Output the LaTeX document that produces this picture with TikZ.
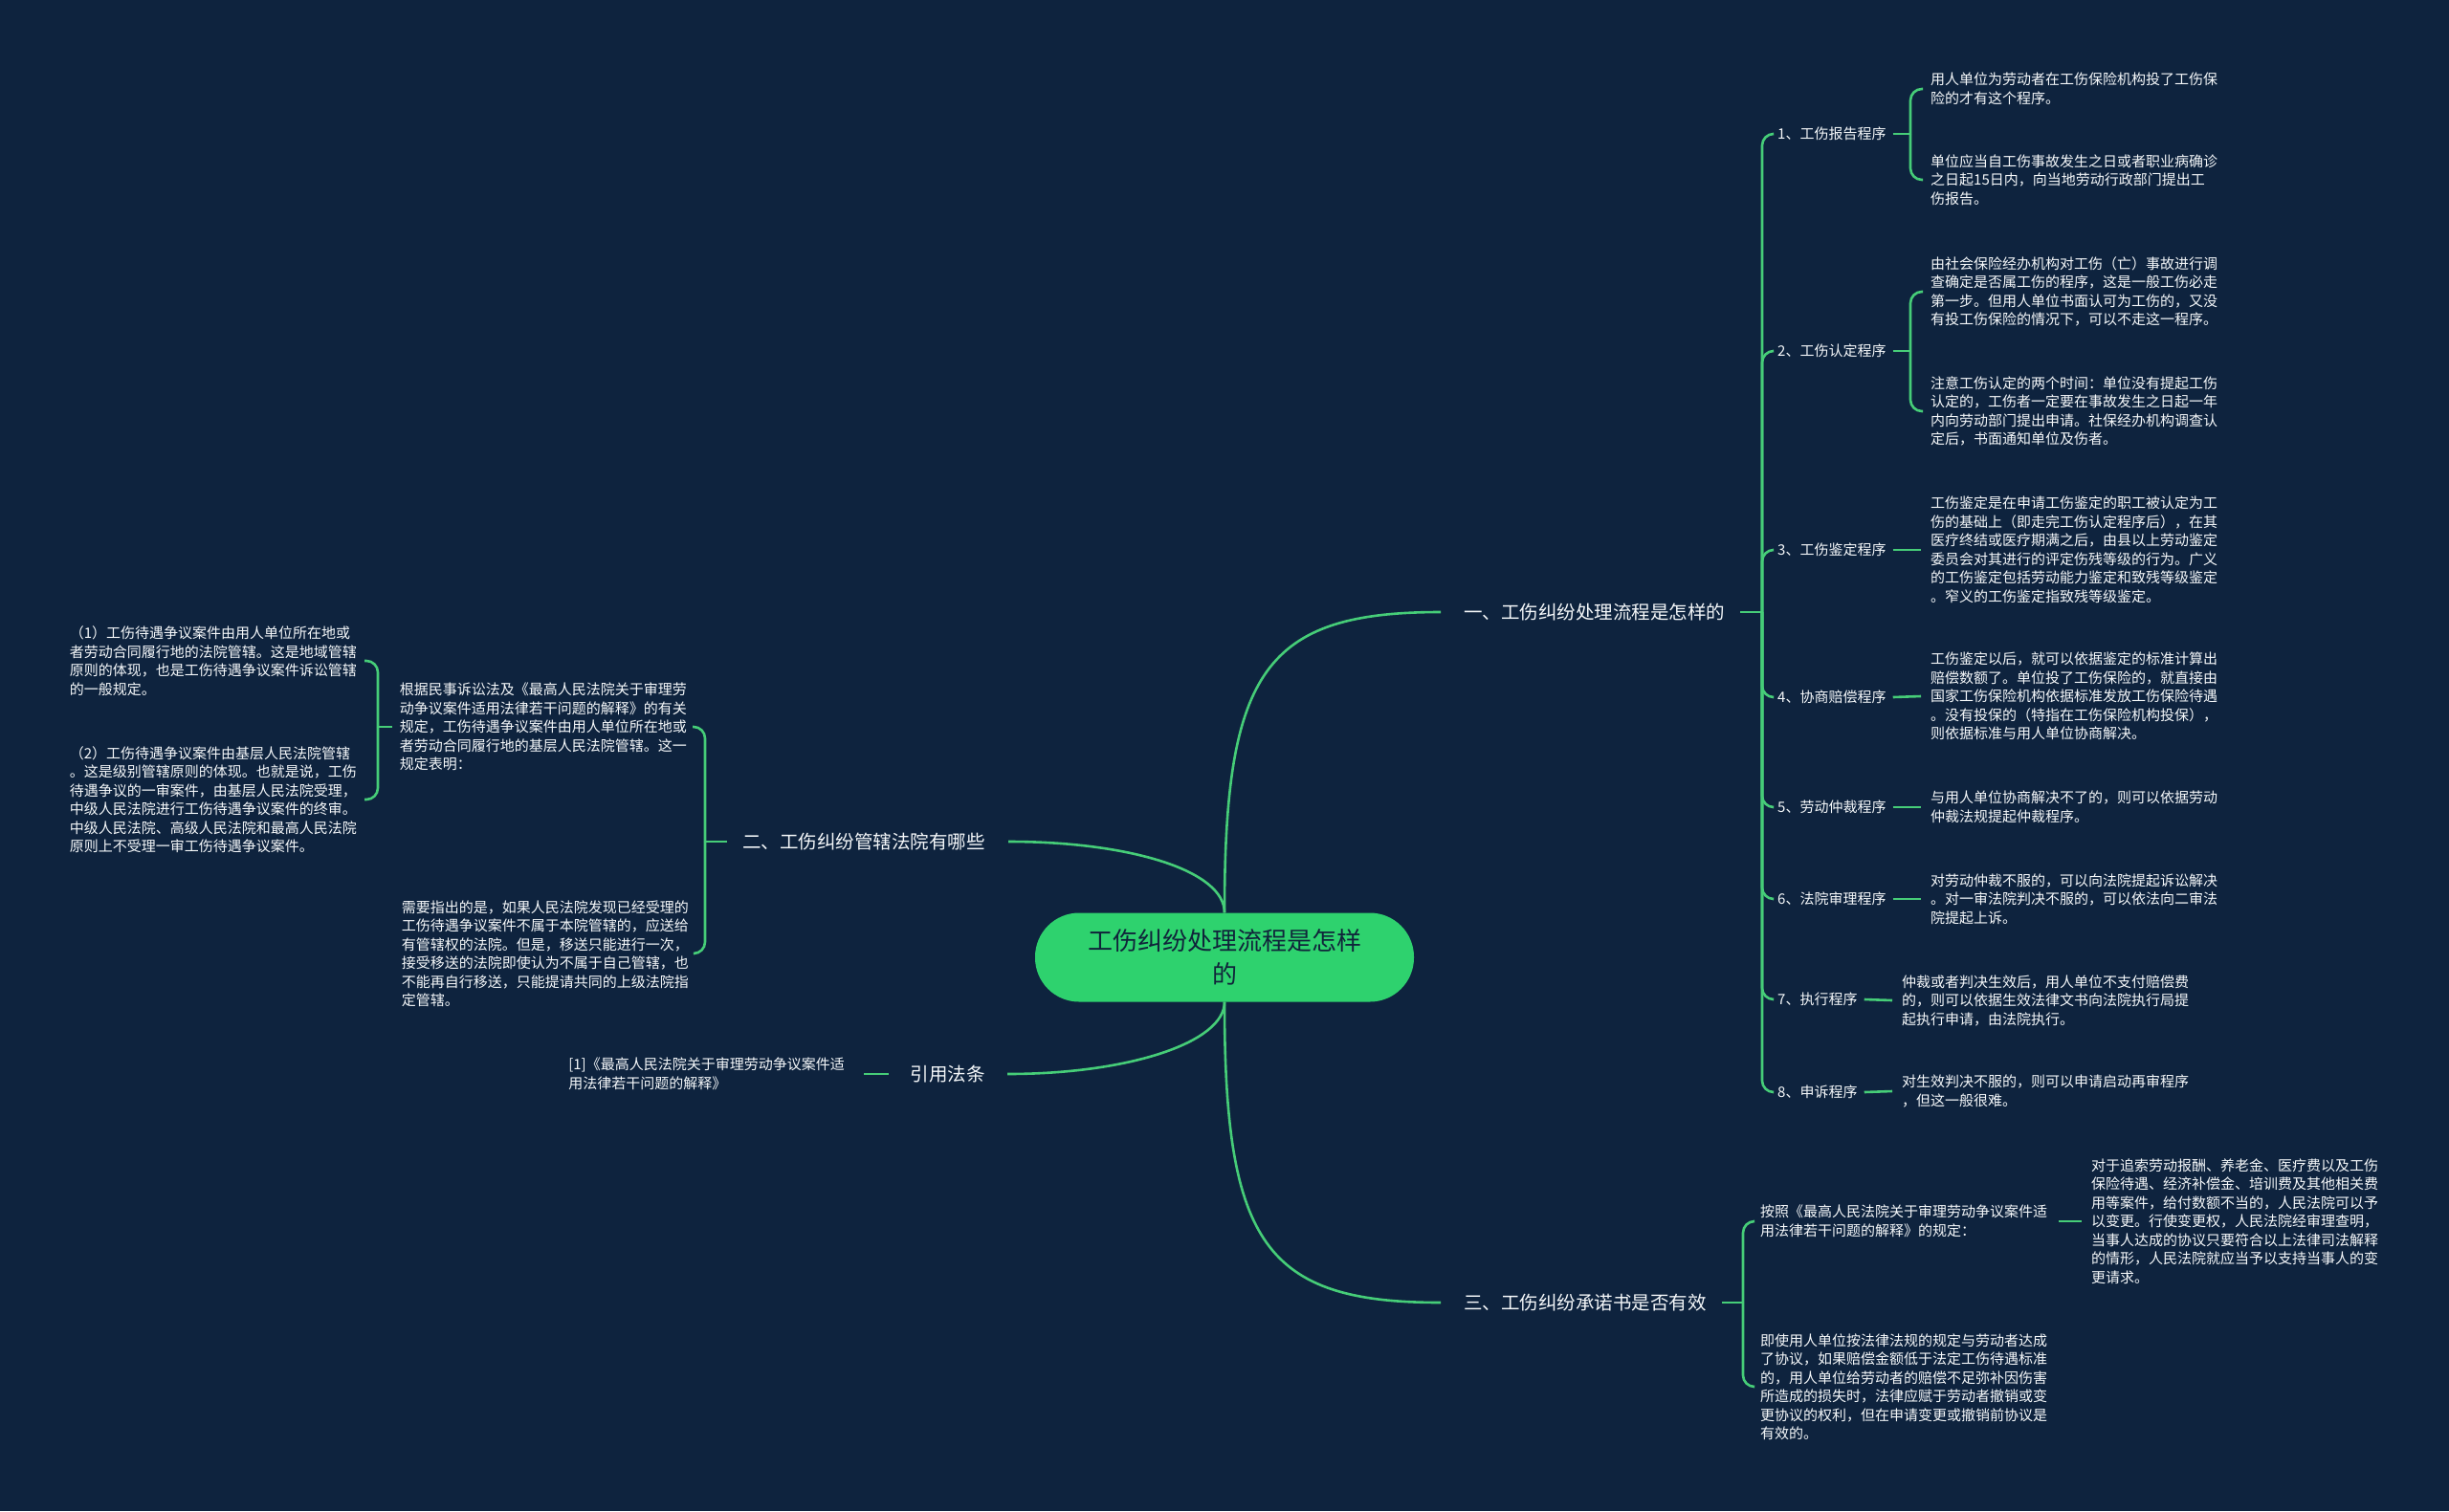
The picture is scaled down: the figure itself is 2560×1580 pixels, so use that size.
\documentclass[tikz,border=0pt]{standalone}
\usepackage{fontspec}
\newfontfamily\cjk{Noto Sans CJK SC}
\definecolor{bg}{RGB}{14,35,62}
\definecolor{gr}{RGB}{70,205,120}
\definecolor{cfill}{RGB}{46,210,110}
\definecolor{ctext}{RGB}{16,36,58}
\definecolor{tx}{RGB}{245,248,250}
\begin{document}
\begin{tikzpicture}[x=1pt,y=-1pt,
  ln/.style={draw=gr,line width=2.6pt},
  brk/.style={ln,rounded corners=12pt},
  txt/.style={font=\cjk\fontsize{15}{19.5}\selectfont,text=tx,align=left,inner sep=0pt},
  mainlbl/.style={font=\cjk\fontsize{19.5}{24}\selectfont,text=tx,inner sep=0pt},
  ]
\useasboundingbox (0,0) rectangle (2560,1580);
\fill[bg] (0,0) rectangle (2560,1580);

% center
\node[fill=cfill, rounded corners=46pt, minimum width=396pt, minimum height=93pt,
  font=\cjk\fontsize{26}{35}\selectfont, text=ctext, align=center, inner sep=0pt]
  (c) at (1280,1001) {工伤纠纷处理流程是怎样\\的};

% main branches
\node[mainlbl, anchor=west] (b1) at (1530,640) {一、工伤纠纷处理流程是怎样的};
\node[mainlbl, anchor=east] (b2) at (1030,880) {二、工伤纠纷管辖法院有哪些};
\node[mainlbl, anchor=east] (b3) at (1030,1123) {引用法条};
\node[mainlbl, anchor=west] (b4) at (1530,1362) {三、工伤纠纷承诺书是否有效};

\draw[ln] (c.north) .. controls (1280,702) and (1322,640) .. ([xshift=-24pt]b1.west);
\draw[ln] (c.north) .. controls (1280,910) and (1180,880) .. ([xshift=24pt]b2.east);
\draw[ln] (c.south) .. controls (1280,1090) and (1180,1123) .. ([xshift=23pt]b3.east);
\draw[ln] (c.south) .. controls (1280,1300) and (1322,1362) .. ([xshift=-24pt]b4.west);

% ---- branch 1 ----
\coordinate (j1) at (1842,640);
\draw[ln] ([xshift=16pt]b1.east) -- (j1);
\node[txt, anchor=west] (l1) at (1858,140) {1、工伤报告程序};
\node[txt, anchor=west] (l2) at (1858,367) {2、工伤认定程序};
\node[txt, anchor=west] (l3) at (1858,575) {3、工伤鉴定程序};
\node[txt, anchor=west] (l4) at (1858,729) {4、协商赔偿程序};
\node[txt, anchor=west] (l5) at (1858,844) {5、劳动仲裁程序};
\node[txt, anchor=west] (l6) at (1858,940) {6、法院审理程序};
\node[txt, anchor=west] (l7) at (1858,1045) {7、执行程序};
\node[txt, anchor=west] (l8) at (1858,1142) {8、申诉程序};
\foreach \n in {l1,l2,l3,l4,l5,l6,l7,l8}
  \draw[brk] (j1) |- ([xshift=-5pt]\n.west);

\node[txt, anchor=west] (t1a) at (2018,93) {用人单位为劳动者在工伤保险机构投了工伤保\\险的才有这个程序。};
\node[txt, anchor=west] (t1b) at (2018,188) {单位应当自工伤事故发生之日或者职业病确诊\\之日起15日内，向当地劳动行政部门提出工\\伤报告。};
\coordinate (j11) at (1997,140);
\draw[ln] ([xshift=7pt]l1.east) -- (j11);
\draw[brk] (j11) |- ([xshift=-8pt]t1a.west);
\draw[brk] (j11) |- ([xshift=-8pt]t1b.west);

\node[txt, anchor=west] (t2a) at (2018,305) {由社会保险经办机构对工伤（亡）事故进行调\\查确定是否属工伤的程序，这是一般工伤必走\\第一步。但用人单位书面认可为工伤的，又没\\有投工伤保险的情况下，可以不走这一程序。};
\node[txt, anchor=west] (t2b) at (2018,430) {注意工伤认定的两个时间：单位没有提起工伤\\认定的，工伤者一定要在事故发生之日起一年\\内向劳动部门提出申请。社保经办机构调查认\\定后，书面通知单位及伤者。};
\coordinate (j12) at (1997,367);
\draw[ln] ([xshift=7pt]l2.east) -- (j12);
\draw[brk] (j12) |- ([xshift=-8pt]t2a.west);
\draw[brk] (j12) |- ([xshift=-8pt]t2b.west);

\node[txt, anchor=west] (t3) at (2018,575) {工伤鉴定是在申请工伤鉴定的职工被认定为工\\伤的基础上（即走完工伤认定程序后），在其\\医疗终结或医疗期满之后，由县以上劳动鉴定\\委员会对其进行的评定伤残等级的行为。广义\\的工伤鉴定包括劳动能力鉴定和致残等级鉴定\\。窄义的工伤鉴定指致残等级鉴定。};
\node[txt, anchor=west] (t4) at (2018,728) {工伤鉴定以后，就可以依据鉴定的标准计算出\\赔偿数额了。单位投了工伤保险的，就直接由\\国家工伤保险机构依据标准发放工伤保险待遇\\。没有投保的（特指在工伤保险机构投保），\\则依据标准与用人单位协商解决。};
\node[txt, anchor=west] (t5) at (2018,844) {与用人单位协商解决不了的，则可以依据劳动\\仲裁法规提起仲裁程序。};
\node[txt, anchor=west] (t6) at (2018,940) {对劳动仲裁不服的，可以向法院提起诉讼解决\\。对一审法院判决不服的，可以依法向二审法\\院提起上诉。};
\node[txt, anchor=west] (t7) at (1988,1046) {仲裁或者判决生效后，用人单位不支付赔偿费\\的，则可以依据生效法律文书向法院执行局提\\起执行申请，由法院执行。};
\node[txt, anchor=west] (t8) at (1988,1141) {对生效判决不服的，则可以申请启动再审程序\\，但这一般很难。};
\foreach \a/\b in {l3/t3,l4/t4,l5/t5,l6/t6,l7/t7,l8/t8}
  \draw[ln] ([xshift=7pt]\a.east) -- ([xshift=-10pt]\b.west);

% ---- branch 2 ----
\coordinate (j2) at (737,880);
\draw[ln] ([xshift=-16pt]b2.west) -- (j2);
\node[txt, anchor=east] (a) at (718,760) {根据民事诉讼法及《最高人民法院关于审理劳\\动争议案件适用法律若干问题的解释》的有关\\规定，工伤待遇争议案件由用人单位所在地或\\者劳动合同履行地的基层人民法院管辖。这一\\规定表明：};
\node[txt, anchor=east] (b) at (720,997) {需要指出的是，如果人民法院发现已经受理的\\工伤待遇争议案件不属于本院管辖的，应送给\\有管辖权的法院。但是，移送只能进行一次，\\接受移送的法院即使认为不属于自己管辖，也\\不能再自行移送，只能提请共同的上级法院指\\定管辖。};
\draw[brk] (j2) |- ([xshift=6pt]a.east);
\draw[brk] (j2) |- ([xshift=6pt]b.east);

\coordinate (ja) at (395,760);
\draw[ln] ([xshift=-8pt]a.west) -- (ja);
\node[txt, anchor=east] (a1) at (373,691) {（1）工伤待遇争议案件由用人单位所在地或\\者劳动合同履行地的法院管辖。这是地域管辖\\原则的体现，也是工伤待遇争议案件诉讼管辖\\的一般规定。};
\node[txt, anchor=east] (a2) at (373,836) {（2）工伤待遇争议案件由基层人民法院管辖\\。这是级别管辖原则的体现。也就是说，工伤\\待遇争议的一审案件，由基层人民法院受理，\\中级人民法院进行工伤待遇争议案件的终审。\\中级人民法院、高级人民法院和最高人民法院\\原则上不受理一审工伤待遇争议案件。};
\draw[brk] (ja) |- ([xshift=8pt]a1.east);
\draw[brk] (ja) |- ([xshift=8pt]a2.east);

% ---- branch 3 ----
\node[txt, anchor=east] (r1) at (883,1123) {[1]《最高人民法院关于审理劳动争议案件适\\用法律若干问题的解释》};
\draw[ln] ([xshift=-23pt]b3.west) -- ([xshift=20pt]r1.east);

% ---- branch 4 ----
\coordinate (j4) at (1822,1362);
\draw[ln] ([xshift=16pt]b4.east) -- (j4);
\node[txt, anchor=west] (c1) at (1840,1277) {按照《最高人民法院关于审理劳动争议案件适\\用法律若干问题的解释》的规定：};
\node[txt, anchor=west] (c2) at (1840,1450) {即使用人单位按法律法规的规定与劳动者达成\\了协议，如果赔偿金额低于法定工伤待遇标准\\的，用人单位给劳动者的赔偿不足弥补因伤害\\所造成的损失时，法律应赋于劳动者撤销或变\\更协议的权利，但在申请变更或撤销前协议是\\有效的。};
\draw[brk] (j4) |- ([xshift=-7pt]c1.west);
\draw[brk] (j4) |- ([xshift=-7pt]c2.west);
\node[txt, anchor=west] (d1) at (2186,1277) {对于追索劳动报酬、养老金、医疗费以及工伤\\保险待遇、经济补偿金、培训费及其他相关费\\用等案件，给付数额不当的，人民法院可以予\\以变更。行使变更权，人民法院经审理查明，\\当事人达成的协议只要符合以上法律司法解释\\的情形，人民法院就应当予以支持当事人的变\\更请求。};
\draw[ln] ([xshift=12pt]c1.east) -- ([xshift=-10pt]d1.west);
\end{tikzpicture}
\end{document}
